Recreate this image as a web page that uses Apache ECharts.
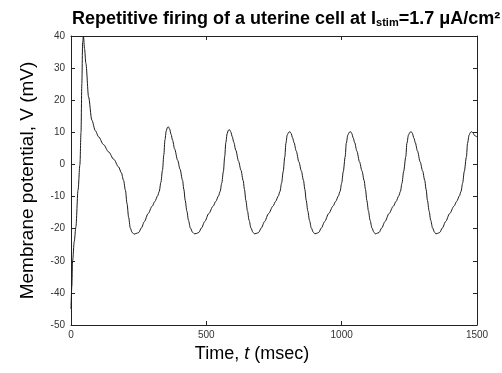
<!DOCTYPE html>
<html>
<head>
<meta charset="utf-8">
<script src="https://cdn.jsdelivr.net/npm/echarts@6/dist/echarts.min.js"></script>
<style>html,body{margin:0;padding:0;background:#fff}#c{width:502px;height:373px}</style>
</head>
<body>
<div id="c"></div>
<script>
// Time (msec)
const timeMs = [
  0,3,6,12,18,26,33,37,40,43,46,50,55,65,77,90,102,120,139,158,176,186,194,201,207,213,219,226,233,241,
  250,260,271,285,300,310,320,326,332,338,343,347,352,356,360,364,370,375,383,394,403,412,417,422,428,434,441,449,456,463,
  472,482,494,509,525,535,545,551,557,563,568,572,577,581,586,590,596,601,609,619,628,636,641,646,652,658,665,672,678,684,
  693,703,715,730,746,756,766,772,778,784,790,794,799,804,809,813,819,824,832,842,851,859,864,869,875,881,888,895,901,906,
  915,925,937,952,968,978,988,994,1000,1006,1013,1017,1023,1028,1033,1037,1043,1048,1056,1066,1075,1083,1088,1093,1099,1105,1112,1119,1124,1129,
  1138,1148,1160,1175,1191,1201,1211,1217,1223,1229,1237,1241,1247,1252,1257,1261,1267,1272,1280,1290,1299,1307,1312,1317,1323,1329,1336,1343,1348,1353,
  1362,1372,1384,1399,1415,1425,1435,1441,1447,1453,1461,1465,1471,1476,1481,1485,1491,1496,1500
];
// Membrane potential (mV)
const voltage = [
  -45,-38,-30,-24,-19.5,-8,0,10,25,38,40,36,31.5,21,13.8,10.5,8.6,6.2,3.9,1.6,-0.8,-2.6,-4.9,-8,-12.2,-16.5,-19.8,-21.2,-21.7,-21.5,
  -21.2,-19.8,-17.8,-15.3,-13,-11.5,-9.8,-8.4,-5.6,-1.8,3,7.6,10.5,11.5,11.7,11.1,9.3,7.6,4.8,1.3,-1.5,-4.9,-7.8,-11.2,-14.5,-17.4,-19.8,-21.1,-21.6,-21.5,
  -21.2,-19.8,-17.8,-15.3,-13,-11.5,-9.8,-8.4,-5.8,-2.2,2.5,6.8,9.6,10.6,10.8,10.2,8.6,7.0,4.4,1.0,-1.8,-5.0,-7.8,-11.2,-14.5,-17.4,-19.8,-21.1,-21.6,-21.5,
  -21.2,-19.8,-17.8,-15.3,-13,-11.5,-9.8,-8.4,-5.8,-2.2,2.4,6.6,9.2,10.0,10.2,9.7,8.2,6.8,4.2,0.8,-2.0,-5.0,-7.8,-11.2,-14.5,-17.4,-19.8,-21.1,-21.6,-21.5,
  -21.2,-19.8,-17.8,-15.3,-13,-11.5,-9.8,-8.4,-5.8,-2.2,2.4,6.6,9.2,10.0,10.2,9.7,8.2,6.8,4.2,0.8,-2.0,-5.0,-7.8,-11.2,-14.5,-17.4,-19.8,-21.1,-21.6,-21.5,
  -21.2,-19.8,-17.8,-15.3,-13,-11.5,-9.8,-8.4,-5.8,-2.2,2.4,6.6,9.2,10.0,10.2,9.7,8.2,6.8,4.2,0.8,-2.0,-5.0,-7.8,-11.2,-14.5,-17.4,-19.8,-21.1,-21.6,-21.5,
  -21.2,-19.8,-17.8,-15.3,-13,-11.5,-9.8,-8.4,-5.8,-2.2,2.4,6.6,9.2,10.0,10.2,9.8,9.0,8.8,8.5
];
const xTicks = [0, 500, 1000, 1500];
const yTicks = [-50, -40, -30, -20, -10, 0, 10, 20, 30, 40];

const points = timeMs.map((t, i) => [t, voltage[i]]);
const FONT = 'Liberation Sans, Arial, Helvetica, sans-serif';
const axisCol = '#222';

const chart = echarts.init(document.getElementById('c'), null, {renderer: 'canvas'});
const baseX = {
  type: 'value', min: xTicks[0], max: xTicks[xTicks.length - 1], interval: 500,
  axisLine: {show: true, onZero: false, lineStyle: {color: axisCol, width: 1}},
  axisTick: {show: true, inside: true, length: 4, lineStyle: {color: axisCol}},
  splitLine: {show: false}
};
const baseY = {
  type: 'value', min: yTicks[0], max: yTicks[yTicks.length - 1], interval: 10,
  axisLine: {show: true, onZero: false, lineStyle: {color: axisCol, width: 1}},
  axisTick: {show: true, inside: true, length: 4, lineStyle: {color: axisCol}},
  splitLine: {show: false}
};
chart.setOption({
  animation: false,
  backgroundColor: '#fff',
  title: {
    left: 67, top: 1,
    text: '{b|Repetitive firing of a uterine cell at I}{s|stim}{b|=1.7 μA/cm²}',
    textStyle: {
      fontFamily: FONT,
      rich: {
        b: {fontSize: 18, fontWeight: 'bold', color: '#000', fontFamily: FONT, lineHeight: 22, verticalAlign: 'bottom'},
        s: {fontSize: 11, fontWeight: 'bold', color: '#000', fontFamily: FONT, lineHeight: 22, verticalAlign: 'bottom', padding: [8, 0, 0, 0]}
      }
    }
  },
  grid: {left: 71, right: 25, top: 36, bottom: 48, containLabel: false},
  xAxis: [
    Object.assign({}, baseX, {
      position: 'bottom',
      axisLabel: {show: true, color: '#333', fontSize: 10, fontFamily: FONT, margin: 5, formatter: v => String(v)},
      name: '{n|Time, }{i|t}{n| (msec)}',
      nameLocation: 'middle', nameGap: 15,
      nameTextStyle: {
        padding: [0, 44, 0, 0],
        rich: {
          n: {fontSize: 18, color: '#000', fontFamily: FONT},
          i: {fontSize: 18, color: '#000', fontFamily: FONT, fontStyle: 'italic'}
        }
      }
    }),
    Object.assign({}, baseX, {position: 'top', axisLabel: {show: false}})
  ],
  yAxis: [
    Object.assign({}, baseY, {
      position: 'left',
      axisLabel: {show: true, color: '#333', fontSize: 10, fontFamily: FONT, margin: 6},
      name: 'Membrane potential, V (mV)',
      nameLocation: 'middle', nameGap: 34,
      nameTextStyle: {fontSize: 19, color: '#000', fontFamily: FONT}
    }),
    Object.assign({}, baseY, {position: 'right', axisLabel: {show: false}})
  ],
  series: [{
    type: 'line',
    data: points,
    xAxisIndex: 0, yAxisIndex: 0,
    showSymbol: false,
    smooth: 0.3,
    smoothMonotone: 'x',
    lineStyle: {color: '#1a1a1a', width: 1},
    clip: true
  }]
});
</script>
</body>
</html>
